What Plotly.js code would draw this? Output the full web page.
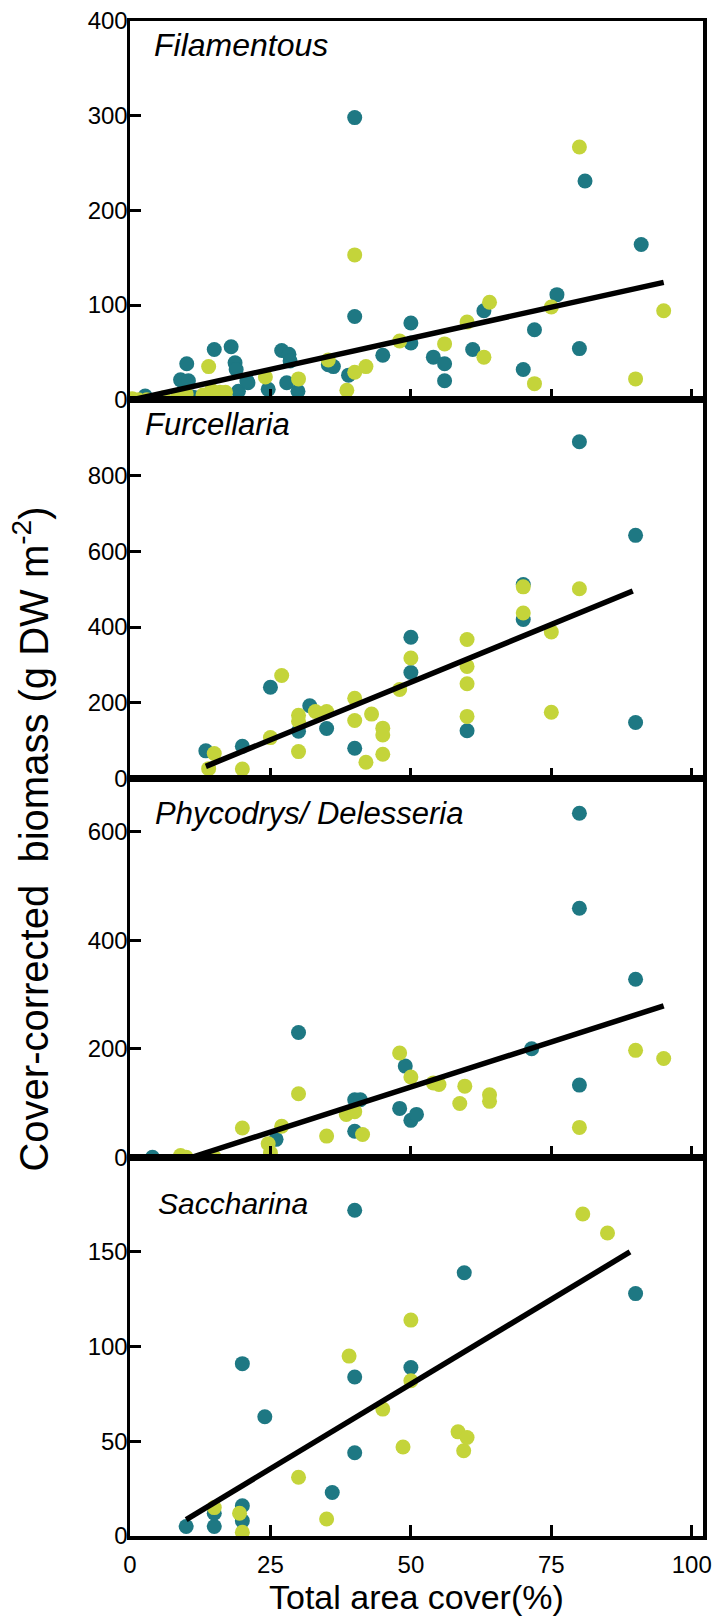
<!DOCTYPE html>
<html>
<head>
<meta charset="utf-8">
<script src="https://cdn.plot.ly/plotly-3.0.1.min.js"></script>
<style>html,body{margin:0;padding:0;background:#fff;}#chart{width:713px;height:1616px;}</style>
</head>
<body>
<div id="chart"></div>
<script>
// ---- data ----
const panelNames = ["Filamentous", "Furcellaria", "Phycodrys/ Delesseria", "Saccharina"];
const yTickVals1 = [0, 100, 200, 300, 400];
const yTickVals2 = [0, 200, 400, 600, 800];
const yTickVals3 = [0, 200, 400, 600];
const yTickVals4 = [0, 50, 100, 150];
const xTickVals = [0, 25, 50, 75, 100];

// Filamentous
const p1TealX = [2.7, 9, 10.4, 10.1, 11, 11.6, 15, 18, 18.7, 18.9, 19.3, 21, 20.8, 24.6, 27, 28.3, 28.5, 27.9, 29.9, 35.3, 36.2, 38.9, 40, 40, 45, 50, 50, 54, 56, 56, 61, 63, 70, 72, 76, 80, 81, 91];
const p1TealY = [4, 21, 20, 38, 3, 2, 53, 56, 39, 32, 9, 18, 20, 11, 52, 48, 41, 18, 9, 37, 35, 26, 298, 88, 47, 81, 60, 45, 38, 20, 53, 94, 32, 74, 111, 54, 231, 164];
const p1YellowX = [0.4, 1.5, 3, 6, 8.5, 10, 13, 14, 14.5, 15.5, 16, 17, 24.1, 30, 35.3, 38.6, 40, 40, 42, 48, 56, 60, 63, 64, 72, 75, 80, 90, 95];
const p1YellowY = [1, 0, 0, 2, 3, 6, 5, 35, 10, 6, 8, 8, 24, 22, 42, 10, 29, 153, 35, 62, 59, 82, 45, 103, 17, 98, 267, 22, 94];
const p1LineX = [0.5, 95];
const p1LineY = [0, 124];

// Furcellaria
const p2TealX = [13.5, 20, 25, 30, 32, 35, 40, 50, 50, 60, 70, 70, 80, 90, 90];
const p2TealY = [73, 85, 241, 125, 192, 132, 80, 373, 280, 126, 512, 420, 889, 642, 148];
const p2YellowX = [15, 14, 20, 25, 27, 30, 30, 30, 33, 35, 40, 40, 42, 43, 45, 45, 45, 48, 50, 60, 60, 60, 60, 70, 70, 75, 75, 80];
const p2YellowY = [66, 26, 25, 108, 272, 167, 151, 71, 177, 177, 212, 153, 43, 170, 133, 115, 64, 235, 318, 367, 296, 250, 164, 506, 437, 387, 175, 501];
const p2LineX = [13.5, 89.5];
const p2LineY = [32, 495];

// Phycodrys / Delesseria
const p3TealX = [4, 26, 30, 40, 41, 40, 48, 49, 50, 51, 71.5, 80, 80, 80, 90];
const p3TealY = [0, 33, 230, 106, 106, 48, 90, 168, 68, 79, 200, 634, 459, 133, 328];
const p3YellowX = [9, 10, 15, 20, 24.6, 25, 27, 30, 35, 38.5, 40, 41.4, 48, 50, 54, 55, 58.7, 59.6, 64, 64, 80, 90, 95];
const p3YellowY = [3, 0, 0, 54, 25, 8, 57, 117, 39, 79, 84, 42, 192, 148, 137, 134, 99, 131, 115, 103, 55, 197, 182];
const p3LineX = [11, 95];
const p3LineY = [0, 279];

// Saccharina
const p4TealX = [10, 15, 15, 20, 20, 20, 24, 36, 40, 40, 40, 50, 59.5, 90];
const p4TealY = [5, 12, 5, 16, 8, 91, 63, 23, 172, 84, 44, 89, 139, 128];
const p4YellowX = [15, 19.5, 20, 30, 35, 39, 45, 48.6, 50, 50, 58.4, 59.4, 60, 80.6, 85];
const p4YellowY = [15, 12, 2, 31, 9, 95, 67, 47, 114, 82, 55, 45, 52, 170, 160];
const p4LineX = [10, 89];
const p4LineY = [8.7, 150];

// ---- styles ----
const TEAL = "#1e7883";
const YELLOW = "#c4d43a";
const FONT = "Liberation Sans, Arial, sans-serif";
const MS = 15;
const labelPos = [[0.039, 0.937], [0.023, 0.934], [0.041, 0.908], [0.046, 0.879]];
const labelSize = [32, 31, 31, 30];

const panels = [
  {tx: p1TealX, ty: p1TealY, yx: p1YellowX, yy: p1YellowY, lx: p1LineX, ly: p1LineY, range: [0, 400], ticks: yTickVals1},
  {tx: p2TealX, ty: p2TealY, yx: p2YellowX, yy: p2YellowY, lx: p2LineX, ly: p2LineY, range: [0, 1000], ticks: yTickVals2},
  {tx: p3TealX, ty: p3TealY, yx: p3YellowX, yy: p3YellowY, lx: p3LineX, ly: p3LineY, range: [0, 698], ticks: yTickVals3},
  {tx: p4TealX, ty: p4TealY, yx: p4YellowX, yy: p4YellowY, lx: p4LineX, ly: p4LineY, range: [0, 200], ticks: yTickVals4}
];

const traces = [];
const layout = {
  width: 713, height: 1616,
  margin: {l: 130, r: 10, t: 21, b: 80, pad: 0},
  paper_bgcolor: "#fff", plot_bgcolor: "#fff",
  showlegend: false,
  font: {family: FONT, size: 20, color: "#000"},
  annotations: []
};

panels.forEach((p, i) => {
  const n = i + 1;
  const xa = n === 1 ? "x" : "x" + n;
  const ya = n === 1 ? "y" : "y" + n;
  traces.push({type: "scatter", mode: "markers", x: p.tx, y: p.ty, xaxis: xa, yaxis: ya,
    marker: {color: TEAL, size: MS, line: {width: 0}}, hoverinfo: "skip"});
  traces.push({type: "scatter", mode: "markers", x: p.yx, y: p.yy, xaxis: xa, yaxis: ya,
    marker: {color: YELLOW, size: MS, line: {width: 0}}, hoverinfo: "skip"});
  traces.push({type: "scatter", mode: "lines", x: p.lx, y: p.ly, xaxis: xa, yaxis: ya,
    line: {color: "#000", width: 5.5}, hoverinfo: "skip"});

  const top = 1 - i * 0.25;
  const bottom = 1 - (i + 1) * 0.25;
  layout[n === 1 ? "xaxis" : "xaxis" + n] = {
    domain: [0, 1], anchor: ya, range: [0, 102],
    tickvals: xTickVals, ticktext: xTickVals.map(String),
    showticklabels: n === 4,
    ticks: "inside", ticklen: 11, tickwidth: 3, tickcolor: "#000",
    showline: true, linewidth: 3.5, linecolor: "#000", mirror: true,
    showgrid: false, zeroline: false,
    tickfont: {family: FONT, size: 24, color: "#000"},
    ticklabelstandoff: 5
  };
  layout[n === 1 ? "yaxis" : "yaxis" + n] = {
    domain: [bottom, top], anchor: xa, range: p.range,
    tickvals: p.ticks, ticktext: p.ticks.map(String),
    ticks: "inside", ticklen: 11, tickwidth: 3, tickcolor: "#000",
    showline: true, linewidth: 3.5, linecolor: "#000", mirror: true,
    showgrid: false, zeroline: false,
    tickfont: {family: FONT, size: 24, color: "#000"},
    ticklabelstandoff: -6
  };
  layout.annotations.push({
    text: "<i>" + panelNames[i] + "</i>", xref: "x" + (n === 1 ? "" : n) + " domain", yref: ya + " domain",
    x: labelPos[i][0], y: labelPos[i][1], xanchor: "left", yanchor: "middle", showarrow: false,
    font: {family: FONT, size: labelSize[i], color: "#000"}
  });
});

layout.annotations.push({
  text: "Cover-corrected\u00a0\u00a0biomass (g DW m<sup>-2</sup>)",
  xref: "paper", yref: "paper", x: -0.172, y: 0.46, xanchor: "center", yanchor: "middle",
  textangle: -90, showarrow: false, font: {family: FONT, size: 40, color: "#000"}
});
layout.annotations.push({
  text: "Total area cover(%)",
  xref: "paper", yref: "paper", x: 0.4995, y: -0.0405, xanchor: "center", yanchor: "middle",
  showarrow: false, font: {family: FONT, size: 34, color: "#000"}
});

Plotly.newPlot("chart", traces, layout, {staticPlot: true, displayModeBar: false});
</script>
</body>
</html>
